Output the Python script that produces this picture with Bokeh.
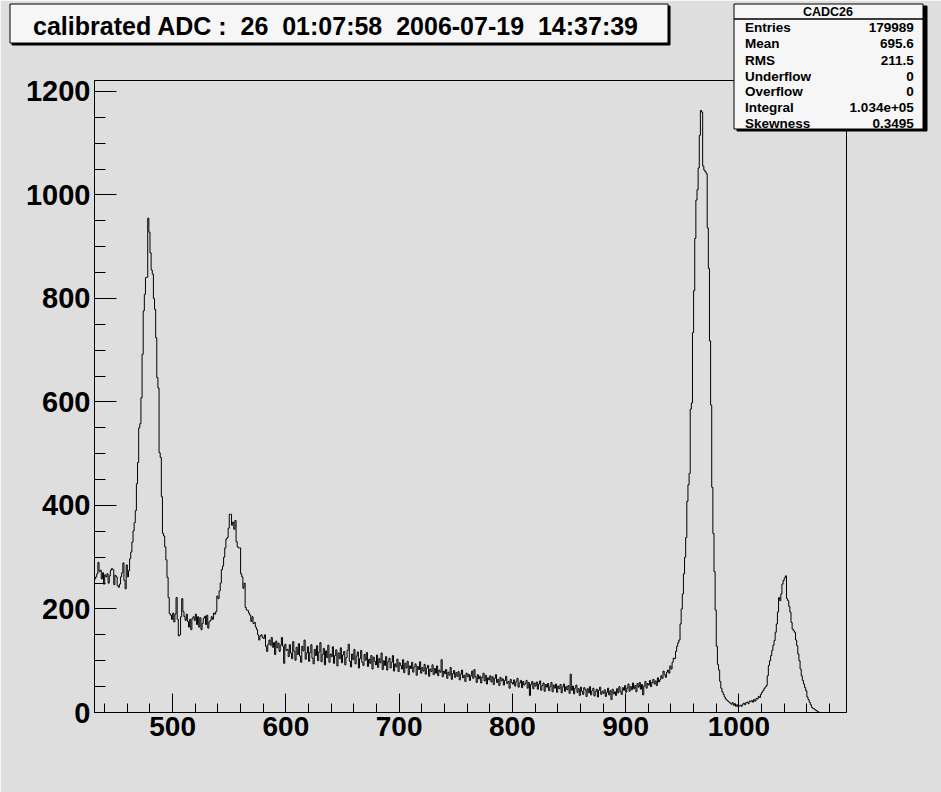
import numpy as np
from bokeh.plotting import figure
from bokeh.layouts import column
from bokeh.models import Range1d, SingleIntervalTicker, Label, BoxAnnotation
from bokeh.embed import file_html
from bokeh.resources import INLINE

# ---------------- data ----------------
title_text = "calibrated ADC :  26  01:07:58  2006-07-19  14:37:39"
stats_name = "CADC26"
stats_labels = ["Entries", "Mean", "RMS", "Underflow", "Overflow", "Integral", "Skewness"]
stats_values = ["179989", "695.6", "211.5", "0", "0", "1.034e+05", "0.3495"]

bin_start = 431      # lower edge of first bin (ADC counts)
bin_width = 1
counts = [
    258, 262, 268, 290, 272, 275, 258, 270, 248, 266,   # 431-440
    262, 268, 250, 264, 275, 278, 276, 247, 265, 262,   # 441-450
    245, 242, 248, 262, 270, 289, 255, 239, 285, 262,   # 451-460
    274, 297, 310, 329, 351, 367, 390, 442, 483, 550,   # 461-470
    558, 608, 692, 776, 808, 840, 841, 955, 928, 888,   # 471-480
    855, 847, 800, 779, 724, 647, 627, 502, 493, 417,   # 481-490
    346, 341, 320, 295, 261, 222, 191, 188, 180, 192,   # 491-500
    175, 190, 222, 180, 148, 150, 185, 220, 195, 185,   # 501-510
    178, 190, 176, 165, 180, 160, 182, 185, 178, 190,   # 511-520
    170, 185, 165, 183, 160, 172, 182, 186, 170, 188,   # 521-530
    163, 175, 178, 185, 180, 192, 190, 195, 225, 220,   # 531-540
    235, 250, 276, 283, 300, 318, 335, 338, 356, 383,   # 541-550
    383, 362, 368, 354, 371, 330, 320, 318, 318, 268,   # 551-560
    262, 240, 250, 203, 198, 197, 192, 188, 176, 185,   # 561-570
    172, 174, 165, 160, 150, 140, 148, 150, 145, 143,   # 571-580
    150, 128, 118, 132, 140, 130, 145, 126, 135, 112,   # 581-590
    138, 125, 134, 118, 130, 145, 128, 95, 132, 120,    # 591-600
    122, 108, 131, 115, 104, 137, 118, 101, 126, 112,   # 601-610
    133, 109, 97, 128, 119, 140, 103, 115, 127, 99,     # 611-620
    116, 131, 105, 94, 122, 110, 129, 100, 117, 135,    # 621-630
    98, 112, 124, 92, 119, 106, 130, 97, 113, 108,      # 631-640
    127, 95, 110, 121, 90, 115, 104, 125, 96, 111,      # 641-650
    118, 92, 106, 120, 132, 99, 88, 113, 102, 122,      # 651-660
    94, 109, 117, 86, 104, 120, 97, 91, 112, 101,       # 661-670
    116, 89, 103, 95, 110, 84, 107, 99, 92, 111,        # 671-680
    87, 104, 96, 115, 83, 100, 91, 108, 82, 98,         # 681-690
    105, 86, 97, 110, 80, 94, 88, 103, 79, 96,          # 691-700
    91, 84, 102, 77, 95, 86, 99, 73, 90, 85,            # 701-710
    97, 78, 88, 94, 72, 89, 83, 98, 76, 87,             # 711-720
    80, 93, 74, 86, 91, 70, 84, 79, 92, 73,             # 721-730
    85, 76, 90, 71, 82, 78, 102, 69, 80, 75,            # 731-740
    83, 66, 78, 72, 87, 64, 75, 81, 68, 77,             # 741-750
    70, 79, 63, 74, 82, 67, 72, 60, 76, 69,             # 751-760
    74, 62, 71, 80, 66, 83, 69, 58, 73, 65,             # 761-770
    70, 57, 68, 76, 61, 72, 55, 67, 63, 71,             # 771-780
    59, 69, 54, 66, 73, 58, 64, 52, 68, 61,             # 781-790
    65, 53, 62, 70, 56, 60, 47, 64, 58, 55,             # 791-800
    63, 51, 59, 66, 49, 57, 62, 48, 60, 53,             # 801-810
    56, 62, 47, 58, 33, 54, 60, 46, 57, 51,             # 811-820
    59, 45, 55, 61, 43, 52, 57, 41, 54, 49,             # 821-830
    56, 42, 50, 58, 40, 53, 47, 55, 39, 51,             # 831-840
    46, 54, 38, 49, 55, 41, 50, 44, 52, 37,             # 841-850
    74, 43, 51, 36, 47, 53, 39, 46, 33, 49,             # 851-860
    41, 35, 48, 44, 31, 46, 38, 50, 34, 42,             # 861-870
    47, 32, 40, 45, 30, 43, 49, 35, 41, 37,             # 871-880
    44, 31, 39, 47, 34, 42, 25, 45, 36, 40,             # 881-890
    33, 46, 38, 50, 41, 35, 48, 43, 52, 39,             # 891-900
    47, 55, 41, 50, 44, 57, 46, 52, 40, 56,             # 901-910
    49, 58, 45, 54, 34, 51, 60, 47, 56, 53,             # 911-920
    62, 50, 58, 64, 55, 61, 52, 67, 59, 63,             # 921-930
    71, 66, 80, 73, 68, 78, 82, 76, 90, 84,             # 931-940
    97, 105, 104, 118, 128, 135, 140, 171, 200, 229,    # 941-950
    268, 300, 338, 408, 440, 462, 586, 598, 734, 815,   # 951-960
    916, 990, 1010, 1052, 1115, 1163, 1160, 1056, 1048, 1045,  # 961-970
    1041, 936, 858, 718, 594, 435, 346, 272, 198, 128,  # 971-980
    93, 82, 60, 47, 40, 35, 30, 26, 24, 22,             # 981-990
    20, 18, 16, 19, 14, 17, 12, 15, 11, 13,             # 991-1000
    14, 12, 16, 18, 15, 19, 20, 17, 22, 21,             # 1001-1010
    23, 20, 25, 22, 27, 26, 31, 29, 35, 39,             # 1011-1020
    42, 46, 49, 52, 71, 91, 100, 110, 120, 130,         # 1021-1030
    139, 155, 171, 194, 222, 216, 229, 248, 255, 260,   # 1031-1040
    264, 220, 216, 205, 194, 174, 161, 158, 155, 140,   # 1041-1050
    129, 113, 100, 84, 71, 62, 55, 48, 42, 30,          # 1051-1060
    25, 20, 15, 10, 8, 7, 5, 4, 2, 1,                   # 1061-1070
    0, 0, 0, 0, 0, 0, 0, 0, 0, 0,                       # 1071-1080
]

x_min, x_max = 431, 1095
y_min, y_max = 0, 1221

# ---------------- styling ----------------
BG = "#dedede"
PAVE = "#f6f6f6"
FONT = "Liberation Sans"
W, H = 941, 792

p = figure(width=W, height=H, x_range=Range1d(x_min, x_max), y_range=Range1d(y_min, y_max),
           output_backend="svg", toolbar_location=None,
           min_border_left=94, min_border_right=95, min_border_top=80, min_border_bottom=80)
p.frame_align = False
p.background_fill_color = BG
p.border_fill_color = BG
p.outline_line_color = "black"
p.outline_line_width = 1
p.grid.visible = False

p.xaxis.ticker = SingleIntervalTicker(interval=100, num_minor_ticks=5)
p.yaxis.ticker = SingleIntervalTicker(interval=200, num_minor_ticks=4)
for ax, big, small, fs in ((p.xaxis, 19, 9, "28px"), (p.yaxis, 22, 11, "29px")):
    ax.axis_line_color = "black"
    ax.major_tick_line_color = "black"
    ax.minor_tick_line_color = "black"
    ax.major_tick_in = big
    ax.major_tick_out = 0
    ax.minor_tick_in = small
    ax.minor_tick_out = 0
    ax.major_label_text_font = FONT
    ax.major_label_text_font_style = "bold"
    ax.major_label_text_font_size = fs
    ax.major_label_text_color = "black"
    ax.major_label_standoff = 4

edges = bin_start + bin_width * np.arange(len(counts) + 1)
ys = np.append(np.array(counts, dtype=float), counts[-1])
p.step(x=edges, y=ys, mode="after", line_color="black", line_width=1)

# ---------- transparent overlay for the title and statistics panes ----------
q = figure(width=W, height=H, x_range=Range1d(0, W), y_range=Range1d(H, 0),
           output_backend="svg", toolbar_location=None,
           x_axis_type=None, y_axis_type=None,
           min_border_left=0, min_border_right=0, min_border_top=0, min_border_bottom=0)
q.frame_align = False
q.background_fill_alpha = 0
q.border_fill_alpha = 0
q.outline_line_color = None
q.styles = {"margin-top": f"-{H}px", "position": "relative"}


def box(l, r, t, b, fill, line):
    q.add_layout(BoxAnnotation(left=l, right=r, top=t, bottom=b,
                               fill_color=fill, fill_alpha=1.0,
                               line_color=line, line_alpha=1.0, line_width=1))


def label(x, y, text, size, align="left"):
    q.add_layout(Label(x=x, y=y, text=text,
                       text_font=FONT, text_font_style="bold", text_font_size=size,
                       text_color="black", text_align=align, text_baseline="middle"))


# title pave (shadow + box); runs of spaces kept visible with no-break spaces
box(11.5, 669.5, 5.5, 44.5, "black", "black")
box(9.5, 667.5, 3.5, 42.5, PAVE, "black")
label(335.5, 25.5, title_text.replace("  ", " \u00a0"), "25px", "center")

# stats pave
box(736.5, 926.5, 5.5, 130.5, "black", "black")
box(733.5, 922.5, 3.5, 128.5, PAVE, "black")
box(733.5, 922.5, 18.5, 18.5, "black", "black")
label(827.5, 11.5, stats_name, "12.5px", "center")
row_y = [27.2, 43.3, 59.5, 75.7, 91.0, 106.7, 122.8]
for yy, lab, val in zip(row_y, stats_labels, stats_values):
    label(744.5, yy, lab, "13.5px", "left")
    label(913.3, yy, val, "13.5px", "right")

layout = column(p, q)
open("out.html", "w").write(file_html(layout, INLINE))
